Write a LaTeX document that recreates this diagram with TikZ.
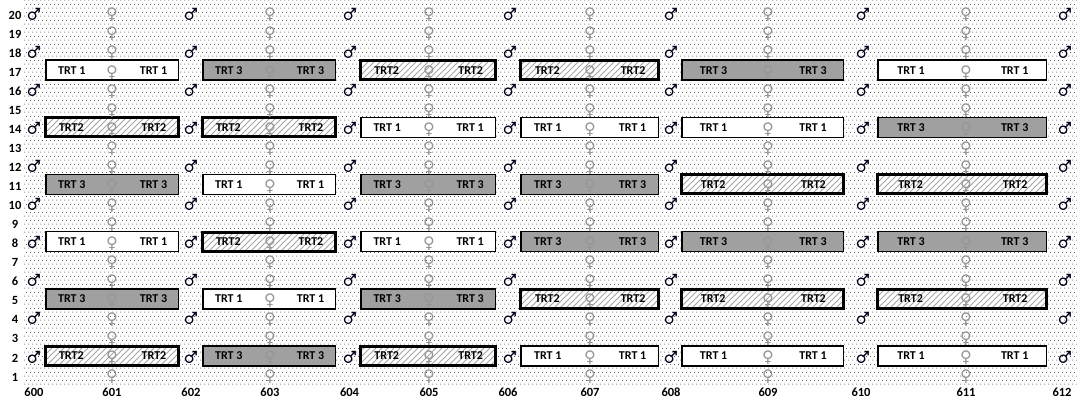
\documentclass[tikz,border=0pt]{standalone}
\usepackage{fontspec}
\setmainfont{Carlito}
\newfontfamily\symfont{DejaVu Sans}
\newfontfamily\emojifont{Noto Emoji}
\usetikzlibrary{patterns,calc}

\pgfdeclarepatternformonly{bgdots}{\pgfqpoint{0pt}{0pt}}{\pgfqpoint{4pt}{8pt}}{\pgfqpoint{4pt}{8pt}}{%
  \pgfpathrectangle{\pgfqpoint{0.5pt}{0.5pt}}{\pgfqpoint{1pt}{1pt}}%
  \pgfpathrectangle{\pgfqpoint{2.5pt}{4.5pt}}{\pgfqpoint{1pt}{1pt}}%
  \pgfusepath{fill}}
\pgfdeclarepatternformonly{hatch}{\pgfqpoint{-1pt}{-1pt}}{\pgfqpoint{7pt}{7pt}}{\pgfqpoint{6pt}{6pt}}{%
  \pgfsetlinewidth{0.8pt}%
  \pgfpathmoveto{\pgfqpoint{0pt}{0pt}}%
  \pgfpathlineto{\pgfqpoint{6.1pt}{6.1pt}}%
  \pgfusepath{stroke}}

\definecolor{dotgray}{RGB}{95,95,95}
\definecolor{hatchgray}{RGB}{165,165,165}
\definecolor{trtgray}{RGB}{160,160,160}
\definecolor{femgray}{RGB}{150,150,150}

\expandafter\def\csname trtlab1\endcsname{TRT 1}
\expandafter\def\csname trtlab2\endcsname{TRT2}
\expandafter\def\csname trtlab3\endcsname{TRT 3}

\begin{document}
\begin{tikzpicture}[x=1pt,y=-1pt,
  box1/.style={draw=black, line width=1.5pt, fill=white, inner sep=0pt, minimum height=20pt},
  box2/.style={draw=black, line width=3pt, preaction={fill=white}, pattern=hatch, pattern color=hatchgray, inner sep=0pt, minimum height=19pt},
  box3/.style={draw=black, line width=1.5pt, fill=trtgray, inner sep=0pt, minimum height=20pt},
  trt/.style={font=\bfseries\fontsize{12}{12}\selectfont, inner sep=0pt},
  axlab/.style={font=\bfseries\fontsize{12.5}{13}\selectfont, inner sep=0pt},
  fem/.style={font=\symfont\fontsize{16}{16}\selectfont, text=femgray, inner sep=0pt},
  mal/.style={font=\emojifont\fontsize{12}{12}\selectfont, text=black!90!blue, inner sep=0pt}]
\useasboundingbox (0,0) rectangle (1077,400);
\fill[white] (0,0) rectangle (1077,400);
\fill[pattern=bgdots, pattern color=dotgray] (24,0) rectangle (1077,385);

% boxes
\def\boxL{{45,202,360,520,681,877}}
\def\boxR{{179,336,496,659,844,1047}}
\foreach \r/\k/\t in {
  17/0/1,17/1/3,17/2/2,17/3/2,17/4/3,17/5/1,
  14/0/2,14/1/2,14/2/1,14/3/1,14/4/1,14/5/3,
  11/0/3,11/1/1,11/2/3,11/3/3,11/4/2,11/5/2,
  8/0/1,8/1/2,8/2/1,8/3/3,8/4/3,8/5/3,
  5/0/3,5/1/1,5/2/3,5/3/2,5/4/2,5/5/2,
  2/0/2,2/1/3,2/2/2,2/3/1,2/4/1,2/5/1}{
  \pgfmathsetmacro\L{\boxL[\k]}
  \pgfmathsetmacro\R{\boxR[\k]}
  \pgfmathsetmacro\W{\R-\L-1.5}
  \pgfmathsetmacro\Y{15+(20-\r)*19.05-2}
  \node[box\t, minimum width=\W pt] (b\r-\k) at ({(\L+\R)/2},\Y) {};
  \node[trt] (tl\r-\k) at ($(b\r-\k.west)!0.2!(b\r-\k.east)$) {\csname trtlab\t\endcsname};
  \node[trt] (tr\r-\k) at ($(b\r-\k.west)!0.81!(b\r-\k.east)$) {\csname trtlab\t\endcsname};
}

% female symbols
\foreach \c/\x in {601/112,603/270,605/429,607/590,609/768,611/966}{
  \foreach \r in {1,...,20}{
    \pgfmathsetmacro\Y{15+(20-\r)*19.05}
    \node[fem] (f\c-\r) at (\x,\Y) {♀};
  }
}
% male symbols
\foreach \c/\x in {600/34,602/191,604/350,606/510,608/671,610/863,612/1065}{
  \foreach \r in {2,4,...,20}{
    \pgfmathsetmacro\Y{15+(20-\r)*19.05-1}
    \node[mal] (m\c-\r) at (\x,\Y) {♂};
  }
}
% y labels
\foreach \r in {1,...,20}{
  \pgfmathsetmacro\Y{15+(20-\r)*19.05}
  \node[axlab] (y\r) at (15,\Y) {\r};
}
% x labels
\foreach \c/\x in {600/34,601/112,602/191,603/270,604/349.5,605/429,606/508,607/590,608/671,609/768,610/861,611/966,612/1062}{
  \node[axlab] (x\c) at (\x,392) {\c};
}
\end{tikzpicture}
\end{document}
